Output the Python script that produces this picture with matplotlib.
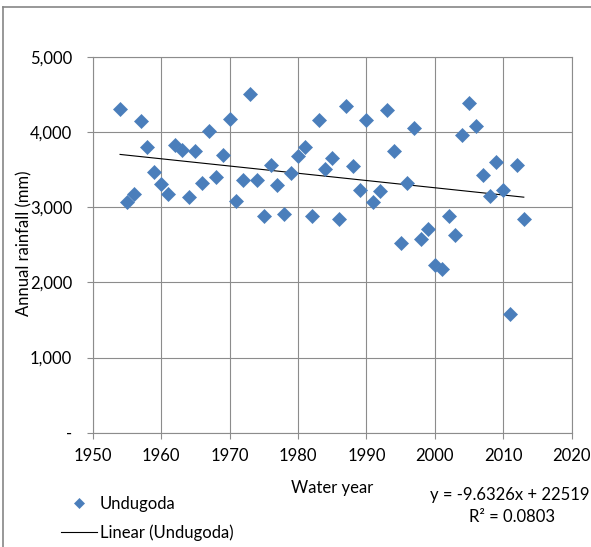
import matplotlib
matplotlib.use("Agg")
import matplotlib.pyplot as plt
from matplotlib import font_manager
from matplotlib.lines import Line2D
import numpy as np

# ---- data ----
years = [1954, 1955, 1956, 1957, 1958, 1959, 1960, 1961, 1962, 1963,
         1964, 1965, 1966, 1967, 1968, 1969, 1970, 1971, 1972, 1973,
         1974, 1975, 1976, 1977, 1978, 1979, 1980, 1981, 1982, 1983,
         1984, 1985, 1986, 1987, 1988, 1989, 1990, 1991, 1992, 1993,
         1994, 1995, 1996, 1997, 1998, 1999, 2000, 2001, 2002, 2003,
         2004, 2005, 2006, 2007, 2008, 2009, 2010, 2011, 2012, 2013]
rainfall = [4310, 3070, 3170, 4150, 3805, 3467, 3310, 3173, 3830, 3765,
            3128, 3741, 3320, 4017, 3395, 3697, 4177, 3084, 3364, 4507,
            3355, 2875, 3564, 3297, 2911, 3453, 3684, 3800, 2888, 4164,
            3507, 3653, 2844, 4351, 3541, 3231, 4164, 3062, 3208, 4297,
            3741, 2520, 3315, 4053, 2577, 2707, 2231, 2177, 2875, 2631,
            3955, 4387, 4084, 3431, 3151, 3600, 3231, 1573, 3564, 2840]
series_name = "Undugoda"
trend_name = "Linear (Undugoda)"
eq_text = "y = -9.6326x + 22519"
r2_text = "R\u00b2 = 0.0803"
x_ticks = [1950, 1960, 1970, 1980, 1990, 2000, 2010, 2020]
y_ticks = [0, 1000, 2000, 3000, 4000, 5000]
y_tick_labels = ["-", "1,000", "2,000", "3,000", "4,000", "5,000"]
x_label = "Water year"
y_label = "Annual rainfall (mm)"

# ---- font ----
names = {f.name for f in font_manager.fontManager.ttflist}
if "Liberation Sans Narrow" in names:
    fam = "Liberation Sans Narrow"
    fs = 14
else:
    fam = "Lato"
    fs = 12
plt.rcParams["font.family"] = [fam, "DejaVu Sans"]

W, H = 591, 547
DPI = 100
fig = plt.figure(figsize=(W / DPI, H / DPI), dpi=DPI)

def fx(px):
    return px / W

def fy(py):
    return 1 - py / H

left, right, top, bottom = 92.7, 571.7, 56.7, 432.7
ax = fig.add_axes([fx(left), fy(bottom), fx(right) - fx(left), fy(top) - fy(bottom)])

grid_c = "#8c8c8c"
ax.set_xlim(1950, 2020)
ax.set_ylim(0, 5000)
ax.set_xticks(x_ticks)
ax.set_yticks(y_ticks)
ax.set_yticklabels(y_tick_labels)
ax.grid(True, color=grid_c, linewidth=0.8)
ax.set_axisbelow(True)
for s in ax.spines.values():
    s.set_color(grid_c)
    s.set_linewidth(0.8)
ax.tick_params(axis="both", direction="out", length=4.2, width=0.8, color=grid_c,
               labelsize=fs, labelcolor="black")
ax.tick_params(axis="y", pad=10.5)
ax.tick_params(axis="x", pad=7)

yr = np.array(years, dtype=float)
rf = np.array(rainfall, dtype=float)
sc, = ax.plot(yr, rf, linestyle="none", marker="D", markersize=7.2,
              color="#4a7ebb", markeredgecolor="#4f81bd", markeredgewidth=0.5,
              zorder=3)
coef = np.polyfit(yr, rf, 1)
xt = np.array([yr.min(), yr.max()])
ln, = ax.plot(xt, np.polyval(coef, xt), color="black", linewidth=0.8, zorder=2)

# axis titles
fig.text(fx(332), fy(493), x_label, ha="center", va="baseline", fontsize=fs)
fig.text(fx(24), fy(243.5), y_label, ha="center", va="center", rotation=90,
         fontsize=fs)

# trendline label
fig.text(fx(510), fy(500), eq_text, ha="center", va="baseline", fontsize=fs)
fig.text(fx(512), fy(522), r2_text, ha="center", va="baseline", fontsize=fs)

# legend
fs_px = fs * DPI / 72
fig.legend(handles=[sc, ln], labels=[series_name, trend_name],
           loc="upper left", bbox_to_anchor=(fx(61), fy(495.5)),
           frameon=False, borderpad=0, borderaxespad=0,
           handlelength=36 / fs_px, handletextpad=3 / fs_px,
           labelspacing=0.78, markerscale=0.72, fontsize=fs)

# outer chart border (top and left)
fig.add_artist(Line2D([fx(2.5), fx(2.5)], [0, fy(6.5)], color="#868686", linewidth=1.2))
fig.add_artist(Line2D([fx(2.5), 1], [fy(6.5), fy(6.5)], color="#868686", linewidth=1.2))

fig.savefig("out.png", dpi=DPI)
